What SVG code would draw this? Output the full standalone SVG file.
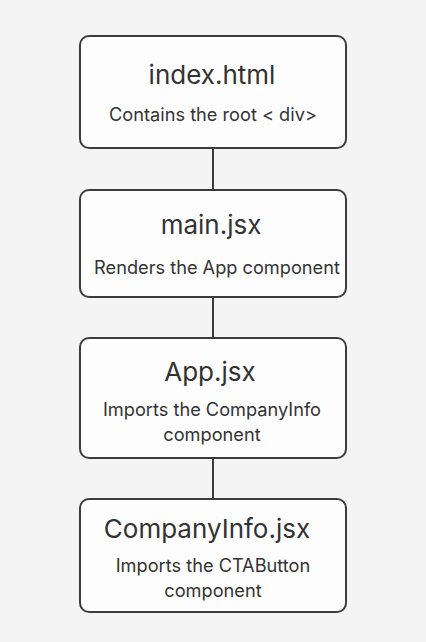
<svg xmlns="http://www.w3.org/2000/svg" width="426" height="642" viewBox="0 0 426 642">
<style>
.bg{fill:#f4f4f4}
.box{fill:#fdfdfd;stroke:#3c3c3c;stroke-width:2}
.conn{stroke:#3c3c3c;stroke-width:2;fill:none}
.t{font-family:Inter,"Noto Sans","Liberation Sans",sans-serif;font-size:26px;fill:#333;text-anchor:middle}
.s{font-family:Inter,"Noto Sans","Liberation Sans",sans-serif;font-size:18.2px;fill:#333;text-anchor:middle}
</style>
<rect class="bg" x="0" y="0" width="426" height="642"/>
<g id="connectors">
<line class="conn" x1="213" y1="148" x2="213" y2="190"/>
<line class="conn" x1="213" y1="297" x2="213" y2="338"/>
<line class="conn" x1="213" y1="458" x2="213" y2="499"/>
</g>
<g id="index">
<rect class="box" x="80" y="36" width="266" height="112" rx="9"/>
<text class="t" x="212" y="84">index.html</text>
<text class="s" x="213" y="121">Contains the root &lt; div&gt;</text>
</g>
<g id="main">
<rect class="box" x="80" y="190" width="266" height="107" rx="9"/>
<text class="t" x="211" y="234">main.jsx</text>
<text class="s" x="217" y="274">Renders the App component</text>
</g>
<g id="app">
<rect class="box" x="80" y="338" width="266" height="120" rx="9"/>
<text class="t" x="210" y="381">App.jsx</text>
<text class="s" x="212" y="416">Imports the CompanyInfo</text>
<text class="s" x="212" y="441">component</text>
</g>
<g id="companyinfo">
<rect class="box" x="80" y="499" width="266" height="113" rx="9"/>
<text class="t" x="207" y="538">CompanyInfo.jsx</text>
<text class="s" x="213" y="572">Imports the CTAButton</text>
<text class="s" x="213" y="597">component</text>
</g>
</svg>
